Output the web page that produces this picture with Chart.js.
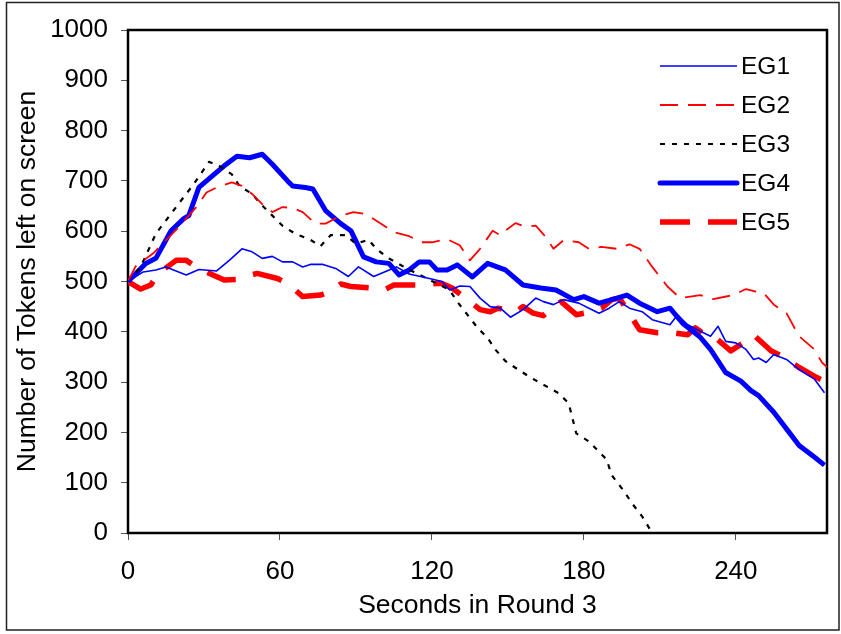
<!DOCTYPE html>
<html>
<head>
<meta charset="utf-8">
<script src="https://cdn.jsdelivr.net/npm/chart.js@4/dist/chart.umd.min.js"></script>
<style>
  html, body { margin: 0; padding: 0; background: #fff; }
  #wrap { width: 841px; height: 634px; }
</style>
</head>
<body>
<div id="wrap"><canvas id="c" width="841" height="634"></canvas></div>
<script>
// ---- Data ----
const seriesNames = ["EG1", "EG2", "EG3", "EG4", "EG5"];
const xTickValues = [0, 60, 120, 180, 240];
const yTickStep = 100;

const eg1Time = [0,6,11,15,23,28,35,40,45,49,53,57,61,65,69,72,77,82,87,91,97,106,111,119,124,127,131,135,139,143,147,151,156,161,164,168,172,178,182,186,190,194,198,203,207,214,217,221,226,230,233,236,240,244,247,249,252,255,260,265,271,275];
const eg1Vals = [500,519,523,529,513,524,521,542,565,559,546,550,539,539,529,534,534,526,510,529,510,529,515,506,500,483,491,490,467,450,447,429,444,467,460,454,464,457,447,437,447,460,447,440,424,414,434,414,401,391,411,381,378,365,345,348,339,355,345,325,306,279];

const eg2Time = [0,3,10,20,27,31,35,41,45,49,53,57,61,65,69,74,78,84,89,94,99,105,111,116,120,126,131,135,139,144,147,149,153,157,161,165,168,172,178,182,187,193,198,202,207,213,218,226,231,239,244,248,251,255,260,265,271,274,276];
const eg2Vals = [500,530,556,608,648,677,687,697,690,674,654,638,648,646,638,615,615,631,638,634,618,598,590,578,578,584,572,542,565,601,592,601,616,609,611,588,565,582,578,565,569,565,574,565,529,490,467,473,465,473,485,480,477,454,437,391,365,339,330];

const eg3Time = [0,5,11,19,26,32,36,41,44,49,53,57,61,66,72,76,80,86,90,95,98,103,109,114,122,127,130,134,138,142,145,149,154,159,170,174,177,182,189,191,196,199,203,207,276];
const eg3Vals = [500,529,595,648,694,738,730,713,690,674,651,631,611,595,583,570,592,592,575,583,565,546,529,516,496,483,460,434,408,388,365,342,325,309,278,258,198,182,146,115,82,59,33,0,0];

const eg4Time = [0,7,11,17,22,24,28,34,38,43,48,53,57,63,65,70,73,78,84,88,93,98,103,107,111,115,119,122,126,130,136,142,149,156,163,169,176,180,186,191,197,202,209,214,219,226,230,236,242,246,249,255,260,265,271,275];
const eg4Vals = [500,536,546,601,625,631,687,713,730,749,746,753,733,700,690,687,684,641,615,601,549,539,536,513,523,539,539,523,523,533,509,536,523,493,487,483,464,470,457,464,473,457,440,447,417,389,365,319,302,283,273,240,207,174,151,135];

const eg5Time = [0,5,9,12,19,23,27,30,38,43,47,51,59,63,66,69,76,80,84,88,97,101,105,109,116,122,124,128,135,139,143,146,153,156,160,164,171,174,177,180,187,191,194,197,202,209,215,221,224,228,232,238,242,244,247,254,258,261,265,272,275];
const eg5Vals = [500,485,493,516,542,542,529,521,503,504,511,516,506,496,483,470,473,480,495,490,487,483,493,493,493,496,496,487,460,444,440,447,440,450,437,432,460,447,434,437,447,464,467,444,404,398,398,394,408,394,388,362,375,381,394,362,352,342,329,309,302];

// ---- Build datasets from the arrays ----
function pts(t, v) { return t.map((x, i) => ({ x: x, y: v[i] })); }

const FONT = '"Liberation Sans", Arial, Helvetica, sans-serif';

const datasets = [
  { label: seriesNames[0], data: pts(eg1Time, eg1Vals), borderColor: '#0000FF', borderWidth: 1.6, borderDash: [] },
  { label: seriesNames[1], data: pts(eg2Time, eg2Vals), borderColor: '#FF0000', borderWidth: 1.8, borderDash: [18, 10] },
  { label: seriesNames[2], data: pts(eg3Time, eg3Vals), borderColor: '#000000', borderWidth: 2.2, borderDash: [5, 7] },
  { label: seriesNames[3], data: pts(eg4Time, eg4Vals), borderColor: '#0000FF', borderWidth: 5, borderDash: [] },
  { label: seriesNames[4], data: pts(eg5Time, eg5Vals), borderColor: '#FF0000', borderWidth: 5.5, borderDash: [30, 18] }
].map(d => Object.assign(d, { fill: false, pointRadius: 0, tension: 0, borderJoinStyle: 'round' }));

// Outer frame + plot frame
const framePlugin = {
  id: 'frames',
  beforeDraw(chart) {
    const ctx = chart.ctx;
    ctx.save();
    ctx.fillStyle = '#fff';
    ctx.fillRect(0, 0, chart.width, chart.height);
    ctx.strokeStyle = '#222';
    ctx.lineWidth = 1.5;
    ctx.strokeRect(6.5, 2.5, 832.5, 627.5);
    ctx.restore();
  },
  beforeDatasetsDraw(chart) {
    const a = chart.chartArea;
    const ctx = chart.ctx;
    ctx.save();
    ctx.strokeStyle = '#000';
    ctx.lineWidth = 2.5;
    ctx.strokeRect(a.left, a.top, a.right - a.left, a.bottom - a.top);
    ctx.restore();
  }
};

// Legend drawn in the plot, using each dataset's own style
const legendPlugin = {
  id: 'lineLegend',
  afterDraw(chart) {
    const ctx = chart.ctx;
    const rows = [66, 105, 144, 183, 222];
    const x0 = 660, x1 = 737;
    ctx.save();
    chart.data.datasets.forEach((ds, i) => {
      const y = rows[i];
      ctx.beginPath();
      ctx.setLineDash(ds.borderDash || []);
      ctx.lineWidth = ds.borderWidth;
      ctx.strokeStyle = ds.borderColor;
      ctx.lineCap = (i === 3) ? 'round' : 'butt';
      ctx.moveTo(x0, y);
      ctx.lineTo(x1, y);
      ctx.stroke();
      ctx.setLineDash([]);
      ctx.fillStyle = '#000';
      ctx.font = '24.5px ' + FONT;
      ctx.textAlign = 'left';
      ctx.textBaseline = 'middle';
      ctx.fillText(ds.label, 741, y + 1);
    });
    ctx.restore();
  }
};

new Chart(document.getElementById('c'), {
  type: 'line',
  data: { datasets: datasets },
  options: {
    responsive: false,
    animation: false,
    devicePixelRatio: 1,
    layout: { padding: { top: 30, right: 14, left: 0, bottom: 0 } },
    plugins: { legend: { display: false }, tooltip: { enabled: false } },
    scales: {
      x: {
        type: 'linear',
        min: 0,
        max: 276,
        afterBuildTicks(scale) { scale.ticks = xTickValues.map(v => ({ value: v })); },
        afterFit(scale) { scale.height = 101; },
        grid: { display: true, drawOnChartArea: false, drawTicks: true, tickLength: 7, color: '#555', lineWidth: 1 },
        border: { display: true, color: '#000', width: 2 },
        ticks: { color: '#000', font: { family: FONT, size: 26 }, padding: 16, maxRotation: 0, callback: v => String(v) },
        title: { display: true, text: 'Seconds in Round 3', color: '#000', font: { family: FONT, size: 26.5 }, padding: 12 }
      },
      y: {
        min: 0,
        max: 1000,
        ticks: { stepSize: yTickStep, color: '#000', font: { family: FONT, size: 26 }, padding: 13, callback: v => String(v) },
        afterFit(scale) { scale.width = 128; },
        grid: { display: true, drawOnChartArea: false, drawTicks: true, tickLength: 7, color: '#555', lineWidth: 1 },
        border: { display: true, color: '#000', width: 2 },
        title: { display: true, text: 'Number of Tokens left on screen', color: '#000', font: { family: FONT, size: 26.5 }, padding: 12 }
      }
    }
  },
  plugins: [framePlugin, legendPlugin]
});
</script>
</body>
</html>
